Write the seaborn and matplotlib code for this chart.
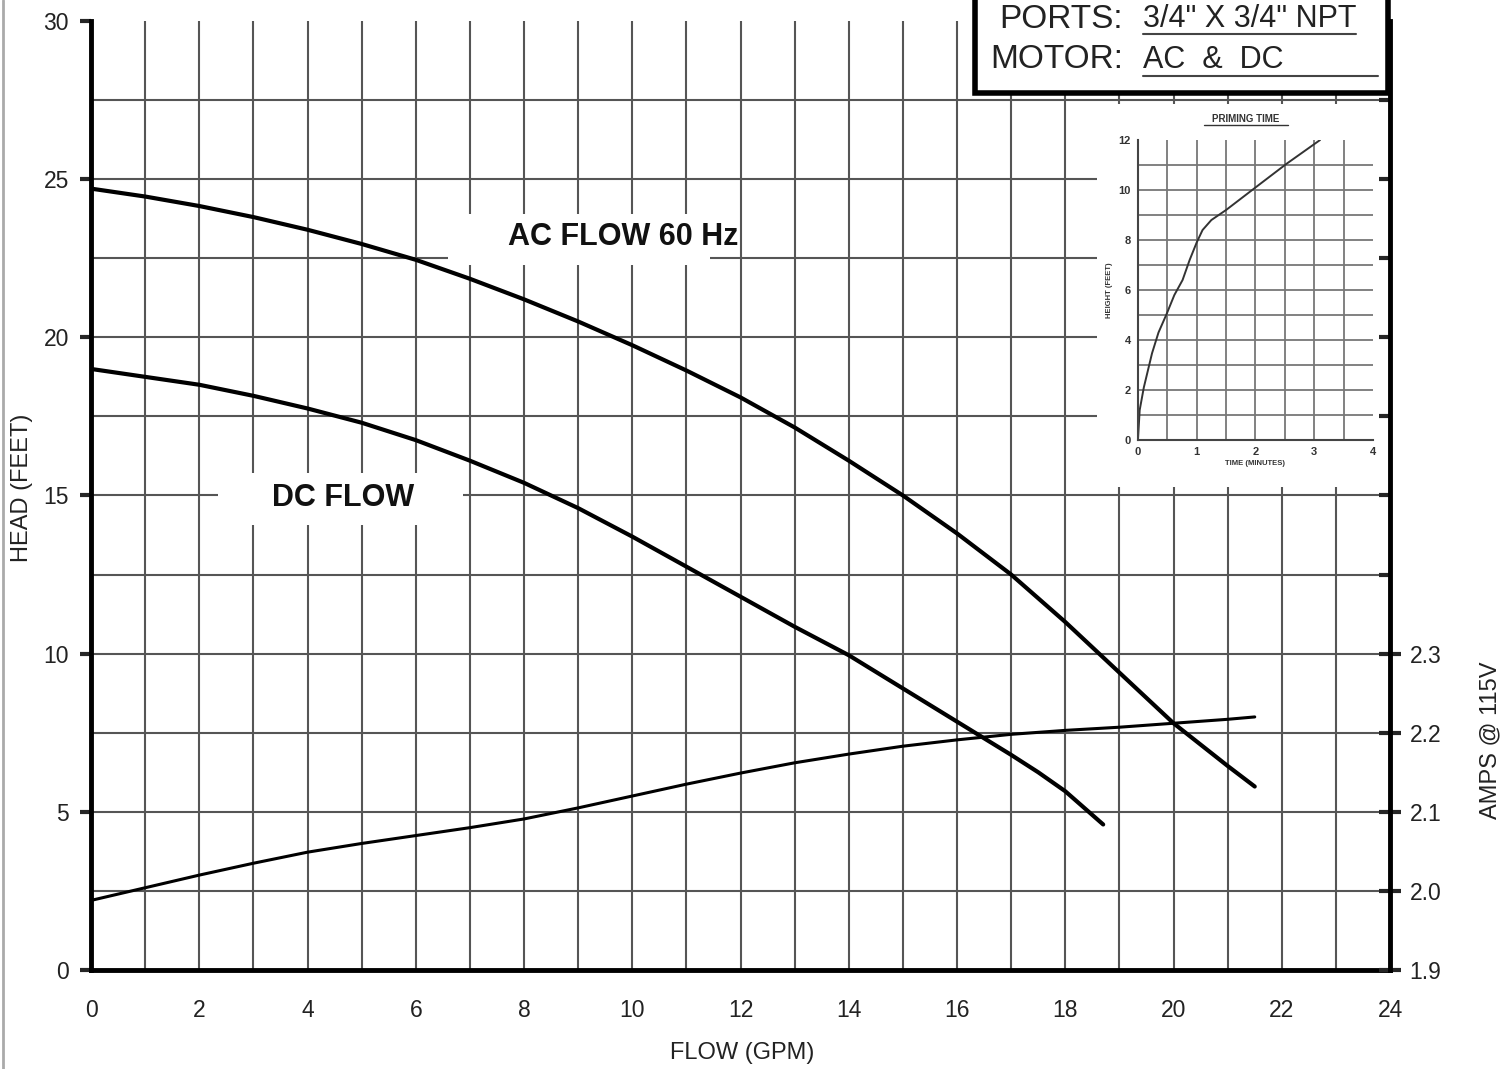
import matplotlib
matplotlib.use("Agg")
import matplotlib.pyplot as plt
import seaborn as sns
import numpy as np
from matplotlib.patches import Rectangle
from matplotlib.lines import Line2D
from matplotlib.ticker import MultipleLocator, FixedLocator

# pump curves, head (feet) vs flow (gpm)
flow_ac = [0, 1, 2, 3, 4, 5, 6, 7, 8, 9, 10, 11, 12, 13, 14, 15, 16, 17, 18, 19, 20, 21, 21.5]
head_ac = [24.7, 24.45, 24.15, 23.8, 23.4, 22.95, 22.45, 21.85, 21.2, 20.5, 19.75, 18.95,
           18.1, 17.15, 16.1, 15.0, 13.8, 12.5, 11.0, 9.4, 7.8, 6.45, 5.8]

flow_dc = [0, 1, 2, 3, 4, 5, 6, 7, 8, 9, 10, 11, 12, 13, 14, 15, 16, 17, 17.5, 18, 18.7]
head_dc = [19.0, 18.75, 18.5, 18.15, 17.75, 17.3, 16.75, 16.1, 15.4, 14.6, 13.7, 12.75,
           11.8, 10.85, 9.95, 8.9, 7.85, 6.8, 6.25, 5.65, 4.6]

# current draw
flow_amps = [0, 1, 2, 3, 4, 5, 6, 7, 8, 9, 10, 11, 12, 13, 14, 15, 16, 17, 18, 19, 20, 21, 21.5]
amps = [1.988, 2.004, 2.020, 2.035, 2.049, 2.060, 2.070, 2.080, 2.091, 2.105, 2.120, 2.135,
        2.149, 2.162, 2.173, 2.183, 2.191, 2.198, 2.203, 2.207, 2.212, 2.217, 2.220]

# priming time inset
prime_time = [0, 0.03, 0.1, 0.24, 0.35, 0.49, 0.62, 0.76, 0.88, 1.0, 1.1, 1.25, 1.5, 2.0, 2.53, 3.1]
prime_height = [0, 1.2, 2.1, 3.47, 4.3, 5.05, 5.8, 6.4, 7.2, 7.9, 8.4, 8.8, 9.2, 10.1, 11.05, 12.0]

x_ticks = [0, 2, 4, 6, 8, 10, 12, 14, 16, 18, 20, 22, 24]
y_ticks = [0, 5, 10, 15, 20, 25, 30]
amp_ticks = [1.9, 2.0, 2.1, 2.2, 2.3]
amp_labels = ["1.9", "2.0", "2.1", "2.2", "2.3"]

sns.set_style("white")
plt.rcParams['font.family'] = ['Liberation Sans', 'DejaVu Sans']

fig = plt.figure(figsize=(15.07, 10.69), dpi=100)
ax = fig.add_axes([0.0604, 0.0926, 0.862, 0.8878])
ax.set_xlim(0, 24)
ax.set_ylim(0, 30)

grid_c = '#555555'
for gx in np.arange(1, 24, 1):
    ax.axvline(gx, color=grid_c, lw=1.5, zorder=0.5)
for gy in np.arange(2.5, 30, 2.5):
    ax.axhline(gy, color=grid_c, lw=1.5, zorder=0.5)

# white patches behind the labels and the inset
ax.add_patch(Rectangle((6.6, 22.29), 4.84, 1.61, facecolor='white', edgecolor='none', zorder=1))
ax.add_patch(Rectangle((2.35, 14.07), 4.52, 1.64, facecolor='white', edgecolor='none', zorder=1))
ax.add_patch(Rectangle((18.59, 15.27), 5.4, 12.1, facecolor='white', edgecolor='none', zorder=1))

sns.lineplot(x=flow_ac, y=head_ac, ax=ax, color='black', lw=3, zorder=3)
sns.lineplot(x=flow_dc, y=head_dc, ax=ax, color='black', lw=3, zorder=3)

ax.text(9.83, 23.17, 'AC FLOW 60 Hz', ha='center', va='center', fontsize=22,
        fontweight='bold', zorder=4, color='#111111')
ax.text(4.66, 14.92, 'DC FLOW', ha='center', va='center', fontsize=22,
        fontweight='bold', zorder=4, color='#111111')

ax.xaxis.set_major_locator(FixedLocator(x_ticks))
ax.xaxis.set_minor_locator(MultipleLocator(1))
ax.yaxis.set_major_locator(FixedLocator(y_ticks))
ax.tick_params(axis='x', which='both', direction='out', length=8, width=3, color='black',
               labelsize=16.5, pad=13)
ax.tick_params(axis='x', which='minor', labelbottom=False)
ax.tick_params(axis='y', which='major', direction='out', length=8, width=3, labelsize=16.5,
               pad=8, left=True)
ax.tick_params(axis='x', labelcolor='#222222')
ax.tick_params(axis='y', labelcolor='#222222')

for s in ['left', 'bottom']:
    ax.spines[s].set_linewidth(3.5)
    ax.spines[s].set_color('black')
ax.spines['top'].set_visible(False)
ax.spines['right'].set_visible(False)

ax.set_xlabel('FLOW (GPM)', fontsize=17, color='#222222')
ax.set_ylabel('HEAD (FEET)', fontsize=17, color='#222222')
ax.xaxis.set_label_coords(0.501, -0.076)
ax.yaxis.set_label_coords(-0.045, 0.508)

# amps axis
ax2 = ax.twinx()
ax2.set_ylim(1.9, 3.1)
sns.lineplot(x=flow_amps, y=amps, ax=ax2, color='black', lw=2.2)
ax2.set_yticks(amp_ticks)
ax2.set_yticklabels(amp_labels)
ax2.yaxis.set_minor_locator(FixedLocator(np.arange(2.4, 3.05, 0.1)))
ax2.tick_params(axis='y', which='major', direction='inout', length=16, width=3,
                labelsize=16.5, pad=6, labelcolor='#222222')
ax2.tick_params(axis='y', which='minor', direction='in', length=8, width=3)
for s in ['left', 'bottom', 'top']:
    ax2.spines[s].set_visible(False)
ax2.spines['right'].set_linewidth(3.5)
ax2.spines['right'].set_color('black')
ax2.set_ylabel('')
fig.text(1490 / 1507, 1 - 740 / 1069, 'AMPS @ 115V', rotation=90, ha='center', va='center',
         fontsize=17, color='#222222')

# priming time inset
axi = fig.add_axes([0.7551, 0.5884, 0.1559, 0.2806])
axi.set_facecolor('none')
axi.set_xlim(0, 4)
axi.set_ylim(0, 12)
for gx in np.arange(0.5, 4, 0.5):
    axi.axvline(gx, color='#777777', lw=1.3, zorder=0.5)
for gy in np.arange(1, 12, 1):
    axi.axhline(gy, color='#777777', lw=1.3, zorder=0.5)
sns.lineplot(x=prime_time, y=prime_height, ax=axi, color='#333333', lw=1.4)
axi.set_xticks([0, 1, 2, 3, 4])
axi.set_yticks([0, 2, 4, 6, 8, 10, 12])
axi.tick_params(length=3, width=1.2, labelsize=8, pad=2, colors='#333333')
for lbl in axi.get_xticklabels() + axi.get_yticklabels():
    lbl.set_fontweight('bold')
for s in ['top', 'right']:
    axi.spines[s].set_visible(False)
for s in ['left', 'bottom']:
    axi.spines[s].set_linewidth(1.5)
    axi.spines[s].set_color('#444444')
axi.set_xlabel('TIME (MINUTES)', fontsize=5.5, fontweight='bold', color='#333333', labelpad=2)
axi.set_ylabel('HEIGHT (FEET)', fontsize=5.5, fontweight='bold', color='#333333', labelpad=4)
axi.text(0.46, 1.07, 'PRIMING TIME', transform=axi.transAxes, ha='center', va='center',
         fontsize=7, fontweight='bold', color='#333333')
axi.add_line(Line2D([0.28, 0.64], [1.05, 1.05], transform=axi.transAxes, color='#333333',
                    lw=1, clip_on=False))

# spec box in the top right corner
fig.add_artist(Rectangle((975 / 1507, 1 - 93 / 1069), (1388 - 975) / 1507, 0.2,
                         transform=fig.transFigure, facecolor='white', edgecolor='black',
                         lw=4, zorder=10))
fig.text(1123 / 1507, 1 - 19 / 1069, 'PORTS:', ha='right', va='center', fontsize=24,
         color='#222222', zorder=11)
fig.text(1123 / 1507, 1 - 60 / 1069, 'MOTOR:', ha='right', va='center', fontsize=24,
         color='#222222', zorder=11)
fig.text(1143 / 1507, 1 - 19 / 1069, '3/4" X 3/4" NPT', ha='left', va='center', fontsize=22,
         color='#222222', zorder=11)
fig.text(1143 / 1507, 1 - 60 / 1069, 'AC  &  DC', ha='left', va='center', fontsize=22,
         color='#222222', zorder=11)
fig.add_artist(Line2D([1143 / 1507, 1356 / 1507], [1 - 34 / 1069, 1 - 34 / 1069],
                      transform=fig.transFigure, color='#444444', lw=1.5, zorder=11))
fig.add_artist(Line2D([1143 / 1507, 1378 / 1507], [1 - 76 / 1069, 1 - 76 / 1069],
                      transform=fig.transFigure, color='#444444', lw=1.5, zorder=11))

# light frame line at the left edge
fig.add_artist(Line2D([0.002, 0.002], [0, 1], transform=fig.transFigure, color='#aaaaaa', lw=2))

fig.savefig('out.png', dpi=100)
